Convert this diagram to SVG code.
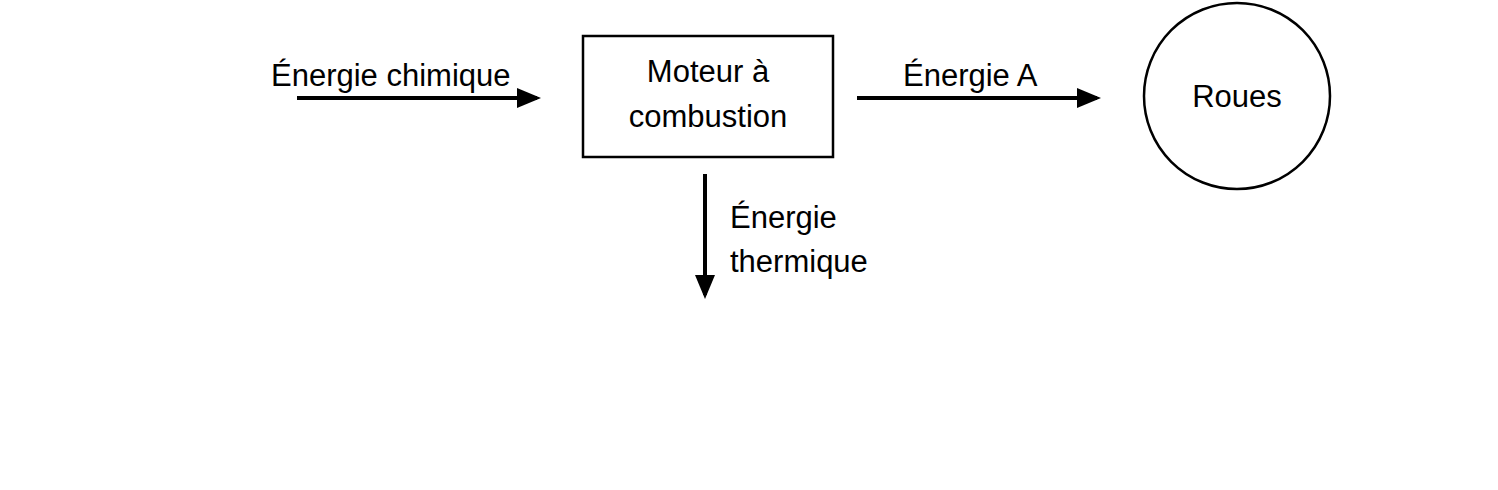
<svg xmlns="http://www.w3.org/2000/svg" width="1498" height="490" viewBox="0 0 1498 490">
<style>
text{font-family:"Liberation Sans",Arial,sans-serif;font-size:31px;fill:#000}
.c{text-anchor:middle}
line{stroke:#000;stroke-width:4}
</style>
<defs><marker id="a" markerWidth="6" markerHeight="5" refX="5" refY="2.5" orient="auto" markerUnits="strokeWidth"><path d="M0,0L6,2.5L0,5z" fill="#000"/></marker></defs>
<rect width="1498" height="490" fill="#fff"/>
<g id="moteur"><rect x="583" y="36" width="250" height="121" fill="#fff" stroke="#000" stroke-width="2.5"/>
<text class="c" x="708" y="82">Moteur à</text><text class="c" x="708" y="127">combustion</text></g>
<g id="roues"><circle cx="1237" cy="96" r="93" fill="#fff" stroke="#000" stroke-width="2.5"/><text class="c" x="1237" y="107">Roues</text></g>
<g id="connectors">
<line x1="297" y1="98" x2="537" y2="98" marker-end="url(#a)"/>
<text x="271" y="86">Énergie chimique</text>
<line x1="857" y1="98" x2="1097" y2="98" marker-end="url(#a)"/>
<text x="903" y="86">Énergie A</text>
<line x1="705" y1="174" x2="705" y2="295" marker-end="url(#a)"/>
<text x="730" y="228">Énergie</text><text x="730" y="272">thermique</text>
</g>
</svg>
